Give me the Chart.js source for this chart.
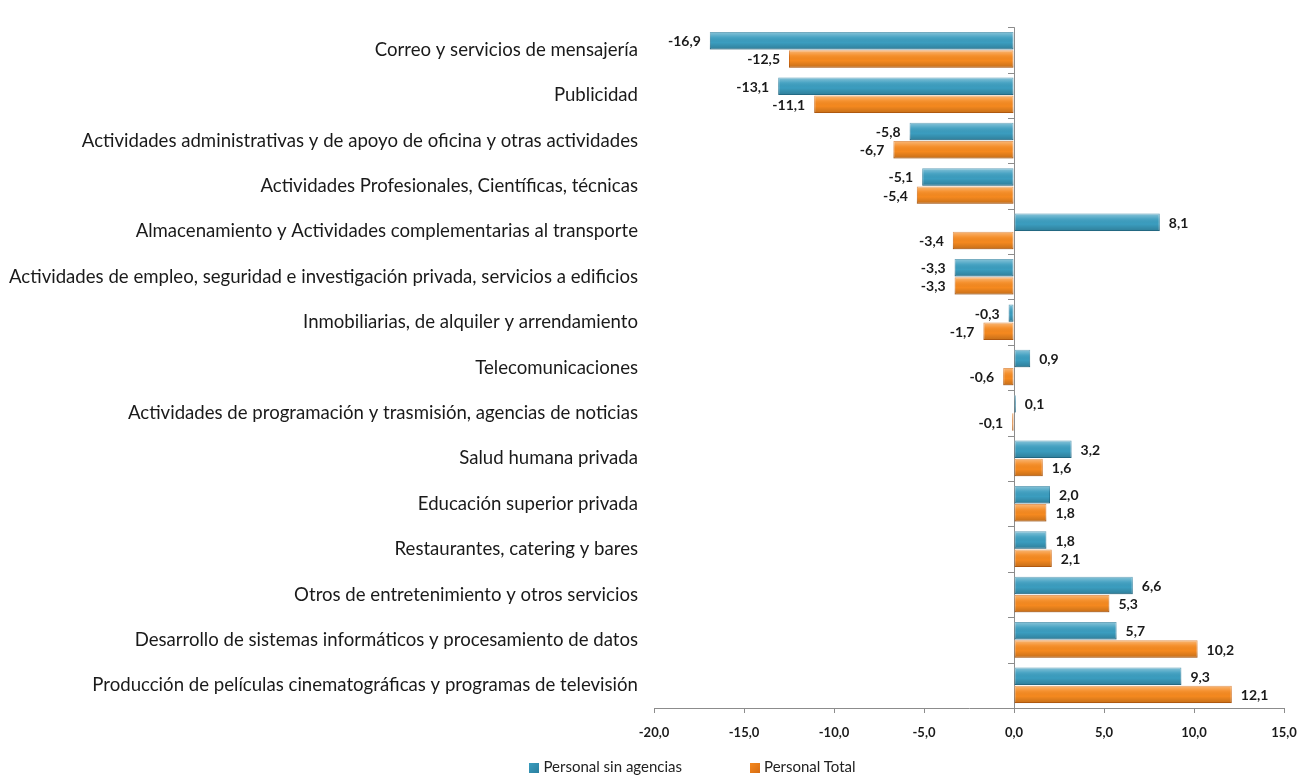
<!DOCTYPE html>
<html>
<head>
<meta charset="utf-8">
<script src="https://cdn.jsdelivr.net/npm/chart.js@4.4.0/dist/chart.umd.min.js"></script>
<style>
  body { margin: 0; background: #fff; }
  #wrap { position: relative; width: 1301px; height: 775px; }
  #legend { position: absolute; left: 0; top: 757px; width: 1301px; text-align: center;
            font: 15px Lato, sans-serif; color: #222; padding-left: 84px; box-sizing: border-box; }
  #legend span.item { display: inline-block; margin: 0 34px; }
  #legend span.box { display: inline-block; width: 10px; height: 10px; margin-right: 4px; vertical-align: -1px; }
</style>
</head>
<body>
<div id="wrap">
  <canvas id="chart" width="1301" height="775"></canvas>
  <div id="legend"></div>
</div>
<script>
// categorias (de arriba hacia abajo)
const categories = [
  'Correo y servicios de mensajería',
  'Publicidad',
  'Actividades administrativas y de apoyo de oficina y otras actividades',
  'Actividades Profesionales, Científicas, técnicas',
  'Almacenamiento y Actividades complementarias al transporte',
  'Actividades de empleo, seguridad e investigación privada, servicios a edificios',
  'Inmobiliarias, de alquiler y arrendamiento',
  'Telecomunicaciones',
  'Actividades de programación y trasmisión, agencias de noticias',
  'Salud humana privada',
  'Educación superior privada',
  'Restaurantes, catering y bares',
  'Otros de entretenimiento y otros servicios',
  'Desarrollo de sistemas informáticos y procesamiento de datos',
  'Producción de películas cinematográficas y programas de televisión'
];
const sinAgencias = [-16.9, -13.1, -5.8, -5.1, 8.1, -3.3, -0.3, 0.9, 0.1, 3.2, 2.0, 1.8, 6.6, 5.7, 9.3];
const personalTotal = [-12.5, -11.1, -6.7, -5.4, -3.4, -3.3, -1.7, -0.6, -0.1, 1.6, 1.8, 2.1, 5.3, 10.2, 12.1];
const seriesNames = ['Personal sin agencias', 'Personal Total'];
const xTicks = [-20, -15, -10, -5, 0, 5, 10, 15];

const TEAL = '#3b9dbf', TEAL_DARK = '#2a7f9f';
const ORANGE = '#f5891f', ORANGE_DARK = '#d66c12';
const AXIS = '#8c8c8c';

const fmt = v => v.toFixed(1).replace('.', ',');

// plugin: brillo tipo 3D + etiquetas + marcas del eje en 0
const barDeco = {
  id: 'barDeco',
  afterDatasetsDraw(chart) {
    const ctx = chart.ctx;
    const xs = chart.scales.x, ys = chart.scales.y;
    // brillo
    chart.data.datasets.forEach((ds, di) => {
      chart.getDatasetMeta(di).data.forEach(el => {
        const { x, y, base, height } = el.getProps(['x', 'y', 'base', 'height'], true);
        const l = Math.min(x, base), w = Math.abs(x - base);
        if (w < 0.5) return;
        const t = y - height / 2;
        const g = ctx.createLinearGradient(0, t, 0, t + height);
        g.addColorStop(0, 'rgba(255,255,255,0.40)');
        g.addColorStop(0.3, 'rgba(255,255,255,0.08)');
        g.addColorStop(0.6, 'rgba(0,0,0,0)');
        g.addColorStop(1, 'rgba(0,0,0,0.20)');
        ctx.fillStyle = g;
        ctx.fillRect(l, t, w, height);
      });
    });
    // marcas de categoria sobre la linea del 0
    const x0 = xs.getPixelForValue(0);
    const step = ys.getPixelForValue(1) - ys.getPixelForValue(0);
    ctx.strokeStyle = AXIS;
    ctx.lineWidth = 1;
    for (let i = 0; i <= categories.length; i++) {
      const yy = Math.round(ys.getPixelForValue(i) - step / 2) + 0.5;
      ctx.beginPath();
      ctx.moveTo(x0 - 6, yy);
      ctx.lineTo(x0, yy);
      ctx.stroke();
    }
    // etiquetas
    ctx.font = 'bold 14px Lato, sans-serif';
    ctx.fillStyle = '#1a1a1a';
    ctx.textBaseline = 'middle';
    chart.data.datasets.forEach((ds, di) => {
      chart.getDatasetMeta(di).data.forEach((el, i) => {
        const v = ds.data[i];
        const { x, y } = el.getProps(['x', 'y'], true);
        if (v >= 0) { ctx.textAlign = 'left'; ctx.fillText(fmt(v), x + 9, y + 1); }
        else { ctx.textAlign = 'right'; ctx.fillText(fmt(v), x - 9, y + 1); }
      });
    });
  }
};

const ctx = document.getElementById('chart').getContext('2d');
const chart = new Chart(ctx, {
  type: 'bar',
  data: {
    labels: categories,
    datasets: [
      { label: seriesNames[0], data: sinAgencias, backgroundColor: TEAL, borderColor: TEAL_DARK, borderWidth: 1, borderSkipped: false },
      { label: seriesNames[1], data: personalTotal, backgroundColor: ORANGE, borderColor: ORANGE_DARK, borderWidth: 1, borderSkipped: false }
    ]
  },
  options: {
    indexAxis: 'y',
    responsive: false,
    animation: false,
    layout: { padding: { top: 13, right: 17, left: 0, bottom: 0 } },
    datasets: { bar: { categoryPercentage: 0.8, barPercentage: 0.96 } },
    plugins: { legend: { display: false }, tooltip: { enabled: false } },
    scales: {
      x: {
        min: -20, max: 15,
        afterFit: s => { s.height = 67; s.paddingRight = 0; s.paddingLeft = 0; },
        afterBuildTicks: s => { s.ticks = xTicks.map(v => ({ value: v })); },
        border: { color: AXIS },
        grid: {
          color: c => (c.tick && c.tick.value === 0 ? AXIS : 'rgba(0,0,0,0)'),
          tickColor: AXIS, tickLength: 5
        },
        ticks: {
          padding: 12, color: '#1a1a1a',
          font: { family: 'Lato', size: 13, weight: 'bold' },
          callback: v => fmt(v)
        }
      },
      y: {
        afterFit: s => { s.width = 654; },
        border: { display: false },
        grid: { display: false, drawTicks: false },
        ticks: { padding: 16, color: '#1a1a1a', font: { family: 'Lato', size: 18.6 } }
      }
    }
  },
  plugins: [barDeco]
});

// leyenda
const legendColors = [[TEAL, TEAL_DARK], [ORANGE, ORANGE_DARK]];
document.getElementById('legend').innerHTML = seriesNames.map((n, i) =>
  '<span class="item"><span class="box" style="background:linear-gradient(135deg,' +
  legendColors[i][0] + ',' + legendColors[i][1] + ')"></span>' + n + '</span>').join('');
</script>
</body>
</html>
